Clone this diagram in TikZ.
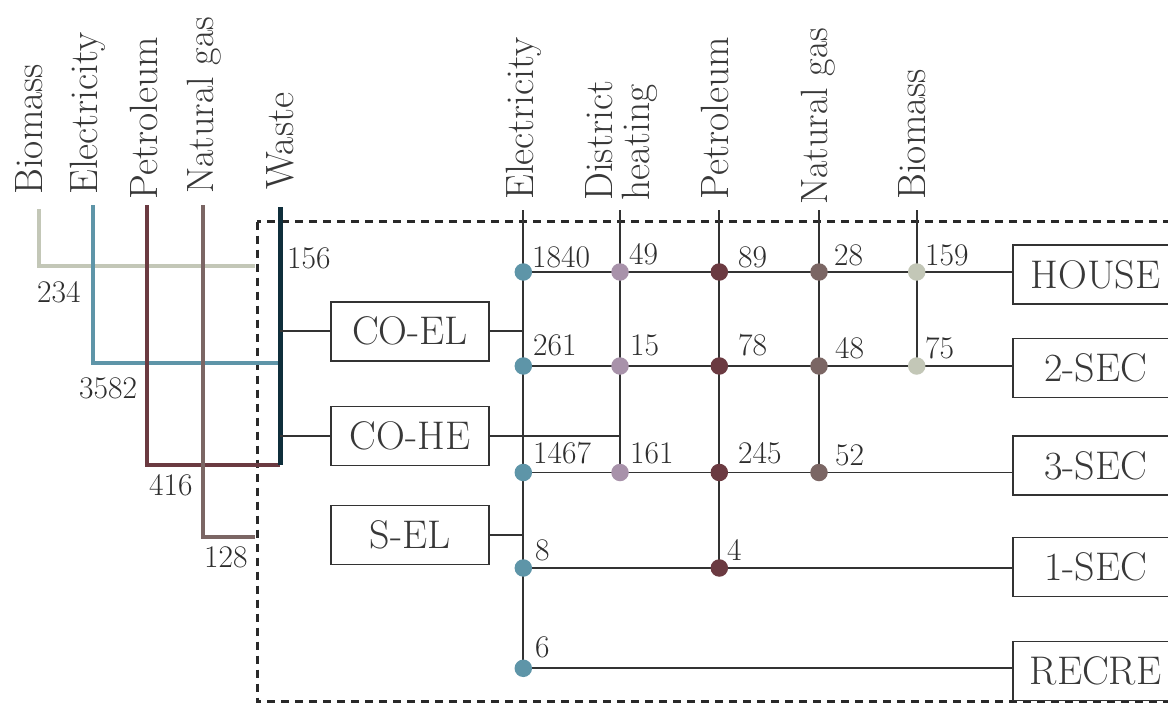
\documentclass[tikz,border=0pt]{standalone}
\usepackage{fontspec}
\definecolor{cbio}{HTML}{C3C7B7}
\definecolor{celec}{HTML}{5E95A8}
\definecolor{cdh}{HTML}{A892AA}
\definecolor{cpet}{HTML}{6B3A41}
\definecolor{cng}{HTML}{7B6664}
\definecolor{cwaste}{HTML}{0F2E3B}
\definecolor{cline}{HTML}{333333}
\definecolor{ctext}{HTML}{383838}
\tikzset{
  lbl/.style={rotate=90, anchor=base west, inner sep=0pt, text=ctext, font=\fontsize{39.5}{37}\selectfont},
  num/.style={anchor=base west, inner sep=0pt, text=ctext!80!black, font=\fontsize{31.5}{32}\selectfont},
  boxnode/.style={draw=cline, line width=1.4pt, inner sep=0pt, minimum height=59pt, text=ctext, font=\fontsize{40}{40}\selectfont},
  dot/.style={circle, inner sep=0pt, minimum size=17.5pt},
  grid/.style={draw=cline, line width=1.7pt},
  feed/.style={line width=4pt},
}
\begin{document}
\begin{tikzpicture}[x=1pt, y=-1pt]
\clip (0,0) rectangle (1168,704);
% dashed system boundary
\draw[line width=3pt, dash pattern=on 8pt off 6pt, cline!80!black] (257.3,221.7) rectangle (1200,701.7);

% input labels (left)
\node[lbl] (lBio) at (42,195) {Biomass};
\node[lbl] (lEl) at (97,195) {Electricity};
\node[lbl] (lPet) at (157,200) {Petroleum};
\node[lbl, font=\fontsize{38}{37}\selectfont] (lNg) at (213,194) {Natural gas};
\node[lbl] (lWa) at (293,190) {Waste};

% input lines
\coordinate (bioTop) at (39,209);
\coordinate (bioEnd) at (255,265.7);
\coordinate (elTop) at (93,205);
\coordinate (elEnd) at (279,362.7);
\coordinate (petTop) at (146.7,205);
\coordinate (petEnd) at (280,465);
\coordinate (ngTop) at (202.7,205);
\coordinate (ngEnd) at (255,537.3);
\coordinate (waTop) at (280,207);
\coordinate (waBot) at (280,465);

\draw[feed, cbio] (bioTop) |- (bioEnd);
\draw[feed, celec] (elTop) |- (elEnd);
\draw[feed, cpet] (petTop) |- (petEnd);
\draw[feed, cng] (ngTop) |- (ngEnd);
\draw[line width=5pt, cwaste] (waTop) -- (waBot);

\node[num] (v156) at (287,268) {156};
\node[num] (v234) at (37,302) {234};
\node[num] (v3582) at (79,398) {3582};
\node[num] (v416) at (149,495) {416};
\node[num] (v128) at (204,567) {128};

% conversion boxes
\node[boxnode, minimum width=158pt] (coel) at (410,331.3) {CO-EL};
\node[boxnode, minimum width=158pt] (cohe) at (410,436) {CO-HE};
\node[boxnode, minimum width=158pt] (sel) at (410,535) {S-EL};

% output boxes
\node[boxnode, minimum width=165pt] (house) at (1095.5,274.5) {HOUSE};
\node[boxnode, minimum width=165pt] (sec2) at (1095.5,368) {2-SEC};
\node[boxnode, minimum width=165pt] (sec3) at (1095.5,465.5) {3-SEC};
\node[boxnode, minimum width=165pt] (sec1) at (1095.5,567) {1-SEC};
\node[boxnode, minimum width=165pt] (recre) at (1095.5,671) {RECRE};

% distribution labels (top)
\node[lbl] (tEl) at (533,200) {Electricity};
\node[rotate=90, anchor=west, inner sep=0pt, align=left, text=ctext, font=\fontsize{39.5}{37}\selectfont] (tDh) at (622,201) {District\\heating};
\node[lbl] (tPet) at (728,200) {Petroleum};
\node[lbl, font=\fontsize{38}{37}\selectfont] (tNg) at (827,205) {Natural gas};
\node[lbl] (tBio) at (925,200) {Biomass};

% column tops
\coordinate (cE) at (523.3,210);
\coordinate (cD) at (620,210);
\coordinate (cP) at (719.3,210);
\coordinate (cN) at (819,210);
\coordinate (cB) at (916.7,210);

% dots
\node[dot] (e1) at (523.3,272) {};
\node[dot] (d1) at (620,272) {};
\node[dot] (p1) at (719.3,272) {};
\node[dot] (n1) at (819,272) {};
\node[dot] (b1) at (916.7,272) {};
\node[dot] (e2) at (523.3,366) {};
\node[dot] (d2) at (620,366) {};
\node[dot] (p2) at (719.3,366) {};
\node[dot] (n2) at (819,366) {};
\node[dot] (b2) at (916.7,366) {};
\node[dot] (e3) at (523.3,472.5) {};
\node[dot] (d3) at (620,472.5) {};
\node[dot] (p3) at (719.3,472.5) {};
\node[dot] (n3) at (819,472.5) {};
\node[dot] (e4) at (523.3,568) {};
\node[dot] (p4) at (719.3,568) {};
\node[dot] (e5) at (523.3,668.3) {};

% connector lines
\draw[grid] (coel.west) -- (coel.west -| waTop);
\draw[grid] (cohe.west) -- (cohe.west -| waTop);
\draw[grid] (coel.east) -- (coel.east -| cE);
\draw[grid] (cohe.east) -- (cohe.east -| cD);
\draw[grid] (sel.east) -- (sel.east -| cE);

\draw[grid] (cE) -- (e5.center);
\draw[grid] (cD) -- (d3.center);
\draw[grid] (cP) -- (p4.center);
\draw[grid] (cN) -- (n3.center);
\draw[grid] (cB) -- (b2.center);
\draw[grid] (e1.center) -- (e1 -| house.west);
\draw[grid] (e2.center) -- (e2 -| sec2.west);
\draw[grid] (e3.center) -- (e3 -| sec3.west);
\draw[grid] (e4.center) -- (e4 -| sec1.west);
\draw[grid] (e5.center) -- (e5 -| recre.west);

\foreach \n/\c in {e1/celec,d1/cdh,p1/cpet,n1/cng,b1/cbio,e2/celec,d2/cdh,p2/cpet,n2/cng,b2/cbio,e3/celec,d3/cdh,p3/cpet,n3/cng,e4/celec,p4/cpet,e5/celec}
  \fill[\c] (\n.center) circle (8.75pt);

% values
\node[num] (x1840) at (532,267) {1840};
\node[num] (x49) at (629,264) {49};
\node[num] (x89) at (738,267) {89};
\node[num] (x28) at (834,265) {28};
\node[num] (x159) at (925,265) {159};
\node[num] (x261) at (533,355) {261};
\node[num] (x15) at (630,355) {15};
\node[num] (x78) at (738,355) {78};
\node[num] (x48) at (835,358) {48};
\node[num] (x75) at (925,358) {75};
\node[num] (x1467) at (533,463) {1467};
\node[num] (x161) at (630,463) {161};
\node[num] (x245) at (738,463) {245};
\node[num] (x52) at (835,465) {52};
\node[num] (x8) at (535,560) {8};
\node[num] (x4) at (727,560) {4};
\node[num] (x6) at (535,657) {6};
\end{tikzpicture}
\end{document}
